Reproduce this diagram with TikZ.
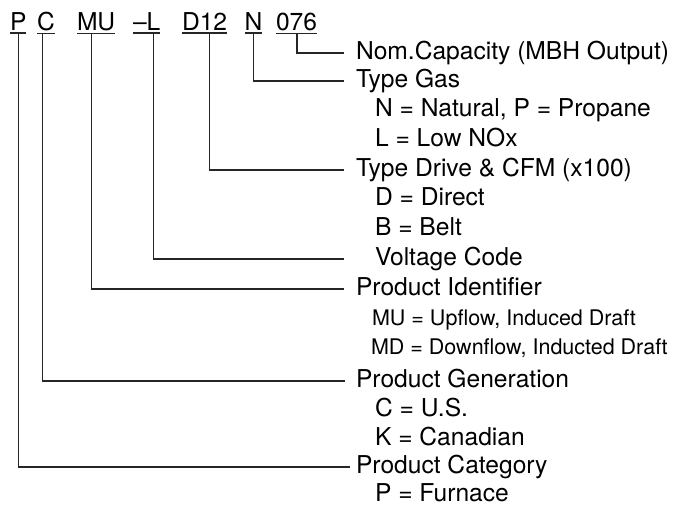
\documentclass[tikz,border=0pt]{standalone}
\usepackage{fontspec}
\setmainfont{TeX Gyre Heros}
\usetikzlibrary{calc}
\begin{document}
\begin{tikzpicture}[x=1pt,y=-1pt,
  code/.style={anchor=base west, inner xsep=0pt, inner ysep=3pt, outer sep=0pt, font=\fontsize{24.6}{29}\selectfont},
  head/.style={anchor=base west, inner sep=0pt, outer sep=0pt, font=\fontsize{24.6}{29}\selectfont},
  small/.style={anchor=base west, inner sep=0pt, outer sep=0pt, font=\fontsize{21.5}{26}\selectfont},
  conn/.style={line width=1.1pt, black!85},
  uline/.style={line width=1.1pt, black!85}]
\useasboundingbox (0,0) rectangle (680,506);

% code letters
\node[code] (c1) at (10,30) {P};
\node[code] (c2) at (37,30) {C};
\node[code] (c3) at (77,30) {MU};
\node[code] (c4) at (133,30) {–L};
\node[code] (c5) at (182,30) {D12};
\node[code] (c6) at (244.5,30) {N};
\node[code] (c7) at (276,30) {076};
\foreach \c in {c1,c2,c3,c4,c5,c6,c7}
  \draw[uline] (\c.south west) -- (\c.south east);

% descriptions
\node[head] (t1) at (356,59) {Nom.Capacity (MBH Output)};
\node[head] (t2) at (356,87) {Type Gas};
\node[head] (t3) at (375,116) {N = Natural, P = Propane};
\node[head] (t4) at (375,146) {L = Low NOx};
\node[head] (t5) at (356,176) {Type Drive \& CFM (x100)};
\node[head] (t6) at (375,205) {D = Direct};
\node[head] (t7) at (375,235) {B = Belt};
\node[head] (t8) at (375,265) {Voltage Code};
\node[head] (t9) at (356,295) {Product Identifier};
\node[small] (t10) at (372,325) {MU = Upflow, Induced Draft};
\node[small] (t11) at (371,354) {MD = Downflow, Inducted Draft};
\node[head] (t12) at (356,387) {Product Generation};
\node[head] (t13) at (375,416) {C = U.S.};
\node[head] (t14) at (375,445) {K = Canadian};
\node[head] (t15) at (356,473) {Product Category};
\node[head] (t16) at (375,501) {P = Furnace};

% connector ends
\coordinate (e1) at (344,53);
\coordinate (e2) at (344,81);
\coordinate (e3) at (344,170);
\coordinate (e4) at (344,259);
\coordinate (e5) at (344,289);
\coordinate (e6) at (345,381);
\coordinate (e7) at (350,467);

\draw[conn] ([xshift=0.5pt]c7.south) |- (e1);
\draw[conn] ([xshift=0.5pt]c6.south) |- (e2);
\draw[conn] ([xshift=4.5pt]c5.south) |- (e3);
\draw[conn] ([xshift=7pt]c4.south) |- (e4);
\draw[conn] ([xshift=-5pt]c3.south) |- (e5);
\draw[conn] ([xshift=-3pt]c2.south) |- (e6);
\draw[conn] (c1.south) |- (e7);
\end{tikzpicture}
\end{document}
